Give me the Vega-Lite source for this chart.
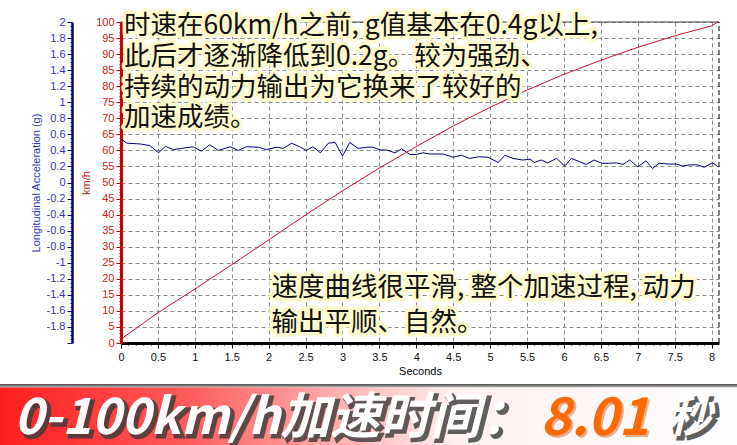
{
  "$schema": "https://vega.github.io/schema/vega-lite/v6.json",
  "background": "white",
  "padding": {"left": 0, "right": 0, "top": 13, "bottom": 0},
  "spacing": 8,
  "config": {
    "font": "Liberation Sans",
    "view": {"stroke": null},
    "axis": {"labelFont": "Liberation Sans", "titleFont": "Liberation Sans", "labelFontSize": 11, "titleFontSize": 11, "titleFontWeight": "normal", "labelOverlap": false, "labelFlush": false}
  },
  "datasets": {
    "speed": [
      {"t": 0, "kmh": 1.2}, {"t": 0.5, "kmh": 9.4}, {"t": 1, "kmh": 16.8}, {"t": 1.5, "kmh": 24.4},
      {"t": 2, "kmh": 32.1}, {"t": 2.5, "kmh": 39.9}, {"t": 3, "kmh": 47.4}, {"t": 3.5, "kmh": 54.5},
      {"t": 4, "kmh": 61.2}, {"t": 4.5, "kmh": 67.6}, {"t": 5, "kmh": 73.4}, {"t": 5.5, "kmh": 78.8},
      {"t": 6, "kmh": 83.7}, {"t": 6.5, "kmh": 88.1}, {"t": 7, "kmh": 92.1}, {"t": 7.5, "kmh": 95.7},
      {"t": 8, "kmh": 98.8}, {"t": 8.08, "kmh": 100}
    ],
    "accel": [
      {"t": 0, "g": 0.54}, {"t": 0.08, "g": 0.49}, {"t": 0.26, "g": 0.48}, {"t": 0.39, "g": 0.46},
      {"t": 0.51, "g": 0.37}, {"t": 0.6, "g": 0.45}, {"t": 0.71, "g": 0.41}, {"t": 0.82, "g": 0.425},
      {"t": 0.98, "g": 0.445}, {"t": 1.09, "g": 0.39}, {"t": 1.2, "g": 0.47}, {"t": 1.32, "g": 0.4},
      {"t": 1.48, "g": 0.445}, {"t": 1.59, "g": 0.4}, {"t": 1.7, "g": 0.445}, {"t": 1.86, "g": 0.44},
      {"t": 1.97, "g": 0.41}, {"t": 2.11, "g": 0.44}, {"t": 2.2, "g": 0.425}, {"t": 2.31, "g": 0.49},
      {"t": 2.42, "g": 0.445}, {"t": 2.51, "g": 0.4}, {"t": 2.6, "g": 0.445}, {"t": 2.7, "g": 0.37},
      {"t": 2.81, "g": 0.49}, {"t": 2.9, "g": 0.5}, {"t": 3, "g": 0.33}, {"t": 3.1, "g": 0.5},
      {"t": 3.21, "g": 0.425}, {"t": 3.33, "g": 0.44}, {"t": 3.41, "g": 0.44}, {"t": 3.51, "g": 0.405},
      {"t": 3.6, "g": 0.405}, {"t": 3.71, "g": 0.37}, {"t": 3.8, "g": 0.42}, {"t": 3.91, "g": 0.35},
      {"t": 4, "g": 0.35}, {"t": 4.09, "g": 0.37}, {"t": 4.18, "g": 0.355}, {"t": 4.36, "g": 0.355},
      {"t": 4.5, "g": 0.315}, {"t": 4.61, "g": 0.34}, {"t": 4.72, "g": 0.3}, {"t": 4.84, "g": 0.32},
      {"t": 4.97, "g": 0.315}, {"t": 5.11, "g": 0.25}, {"t": 5.2, "g": 0.34}, {"t": 5.31, "g": 0.3},
      {"t": 5.44, "g": 0.28}, {"t": 5.54, "g": 0.29}, {"t": 5.6, "g": 0.25}, {"t": 5.69, "g": 0.28},
      {"t": 5.78, "g": 0.245}, {"t": 5.9, "g": 0.3}, {"t": 6.01, "g": 0.205}, {"t": 6.1, "g": 0.3},
      {"t": 6.21, "g": 0.26}, {"t": 6.3, "g": 0.225}, {"t": 6.41, "g": 0.28}, {"t": 6.51, "g": 0.24},
      {"t": 6.62, "g": 0.24}, {"t": 6.71, "g": 0.245}, {"t": 6.8, "g": 0.225}, {"t": 6.89, "g": 0.28},
      {"t": 7, "g": 0.195}, {"t": 7.11, "g": 0.27}, {"t": 7.2, "g": 0.175}, {"t": 7.29, "g": 0.24},
      {"t": 7.41, "g": 0.23}, {"t": 7.52, "g": 0.23}, {"t": 7.61, "g": 0.205}, {"t": 7.7, "g": 0.22},
      {"t": 7.81, "g": 0.22}, {"t": 7.9, "g": 0.19}, {"t": 8.01, "g": 0.245}, {"t": 8.08, "g": 0.205}
    ]
  },
  "vconcat": [
    {
      "width": 737,
      "height": 321,
      "layer": [
        {
          "data": {"name": "accel"},
          "mark": {"type": "line", "color": "#00007a", "strokeWidth": 1},
          "encoding": {
            "x": {
              "field": "t", "type": "quantitative",
              "scale": {"domain": [0, 8.1], "range": [121, 719], "nice": false, "zero": false},
              "axis": {
                "tickCount": 1000,
                "values": [0,0.1,0.2,0.3,0.4,0.5,0.6,0.7,0.8,0.9,1,1.1,1.2,1.3,1.4,1.5,1.6,1.7,1.8,1.9,2,2.1,2.2,2.3,2.4,2.5,2.6,2.7,2.8,2.9,3,3.1,3.2,3.3,3.4,3.5,3.6,3.7,3.8,3.9,4,4.1,4.2,4.3,4.4,4.5,4.6,4.7,4.8,4.9,5,5.1,5.2,5.3,5.4,5.5,5.6,5.7,5.8,5.9,6,6.1,6.2,6.3,6.4,6.5,6.6,6.7,6.8,6.9,7,7.1,7.2,7.3,7.4,7.5,7.6,7.7,7.8,7.9,8],
                "title": "Seconds", "titleColor": "#000", "titlePadding": 3,
                "labelExpr": "abs(datum.value*2 - round(datum.value*2)) < 0.001 ? toString(datum.value) : ''",
                "labelColor": "#111", "labelPadding": 3,
                "tickColor": "#000",
                "tickSize": {"condition": {"test": "abs(datum.value*2 - round(datum.value*2)) < 0.001", "value": 5}, "value": 2},
                "domainColor": "#000", "domainWidth": 3,
                "grid": true, "gridColor": "#8a8a8a", "gridDash": [4, 3], "gridWidth": 1,
                "gridOpacity": {"condition": {"test": "abs(datum.value*2 - round(datum.value*2)) < 0.001 && datum.value > 0", "value": 1}, "value": 0}
              }
            },
            "y": {
              "field": "g", "type": "quantitative",
              "scale": {"domain": [-2, 2], "nice": false, "zero": false},
              "axis": {
                "orient": "left", "offset": -72, "tickCount": 1000,
                "values": [-2,-1.95,-1.9,-1.85,-1.8,-1.75,-1.7,-1.65,-1.6,-1.55,-1.5,-1.45,-1.4,-1.35,-1.3,-1.25,-1.2,-1.15,-1.1,-1.05,-1,-0.95,-0.9,-0.85,-0.8,-0.75,-0.7,-0.65,-0.6,-0.55,-0.5,-0.45,-0.4,-0.35,-0.3,-0.25,-0.2,-0.15,-0.1,-0.05,0,0.05,0.1,0.15,0.2,0.25,0.3,0.35,0.4,0.45,0.5,0.55,0.6,0.65,0.7,0.75,0.8,0.85,0.9,0.95,1,1.05,1.1,1.15,1.2,1.25,1.3,1.35,1.4,1.45,1.5,1.55,1.6,1.65,1.7,1.75,1.8,1.85,1.9,1.95,2],
                "title": "Longitudinal Acceleration (g)", "titleColor": "#3434b0", "titlePadding": 5,
                "labelExpr": "abs(datum.value*5 - round(datum.value*5)) < 0.001 && datum.value > -1.99 ? toString(datum.value) : ''",
                "labelColor": "#3434b0", "labelPadding": 2,
                "tickColor": "#000080",
                "tickSize": {"condition": {"test": "abs(datum.value*5 - round(datum.value*5)) < 0.001", "value": 5}, "value": 2},
                "domainColor": "#000080", "domainWidth": 2.5,
                "grid": false
              }
            }
          }
        },
        {
          "layer": [
            {
              "data": {"name": "speed"},
              "mark": {"type": "line", "color": "#cc1030", "strokeWidth": 1},
              "encoding": {
                "x": {"field": "t", "type": "quantitative"},
                "y": {
                  "field": "kmh", "type": "quantitative",
                  "scale": {"domain": [0, 100], "nice": false, "zero": false},
                  "axis": {
                    "orient": "left", "offset": -121, "tickCount": 1000,
                    "values": [0,1,2,3,4,5,6,7,8,9,10,11,12,13,14,15,16,17,18,19,20,21,22,23,24,25,26,27,28,29,30,31,32,33,34,35,36,37,38,39,40,41,42,43,44,45,46,47,48,49,50,51,52,53,54,55,56,57,58,59,60,61,62,63,64,65,66,67,68,69,70,71,72,73,74,75,76,77,78,79,80,81,82,83,84,85,86,87,88,89,90,91,92,93,94,95,96,97,98,99,100],
                    "title": "km/h", "titleColor": "#cc2020", "titlePadding": 4,
                    "labelExpr": "datum.value % 5 == 0 ? toString(datum.value) : ''",
                    "labelColor": "#cc2020", "labelPadding": 2,
                    "tickColor": "#cc0000",
                    "tickSize": {"condition": {"test": "datum.value % 5 == 0", "value": 5}, "value": 2},
                    "domainColor": "#cc0000", "domainWidth": 3,
                    "grid": true, "gridColor": "#8a8a8a", "gridDash": [4, 3], "gridWidth": 1,
                    "gridOpacity": {"condition": {"test": "datum.value % 5 == 0 && datum.value > 0", "value": 1}, "value": 0}
                  }
                }
              }
            },
            {
              "data": {"values": [{}]},
              "mark": {"type": "rule", "color": "#444", "strokeWidth": 1},
              "encoding": {"x": {"datum": 0, "type": "quantitative"}, "x2": {"datum": 8.1}, "y": {"datum": 100, "type": "quantitative"}}
            },
            {
              "data": {"values": [{}]},
              "mark": {"type": "rule", "color": "#000", "strokeWidth": 1, "strokeDash": [5, 3]},
              "encoding": {"x": {"datum": 8.1, "type": "quantitative"}, "y": {"datum": 0, "type": "quantitative"}, "y2": {"datum": 100}}
            },
            {
              "data": {"values": [{"note": ["时速在60km/h之前, g值基本在0.4g以上,", "此后才逐渐降低到0.2g。较为强劲、", "持续的动力输出为它换来了较好的", "加速成绩。"]}]},
              "mark": {"type": "text", "align": "left", "baseline": "middle", "lineHeight": 30.7, "font": "Noto Sans CJK SC", "fontSize": 26.5, "fill": "#fffbcc", "stroke": "#fffbcc", "strokeWidth": 7, "strokeJoin": "round", "opacity": 0.95},
              "encoding": {"text": {"field": "note"}, "x": {"datum": 0.04, "type": "quantitative"}, "y": {"datum": 98.7, "type": "quantitative"}}
            },
            {
              "data": {"values": [{"note": ["时速在60km/h之前, g值基本在0.4g以上,", "此后才逐渐降低到0.2g。较为强劲、", "持续的动力输出为它换来了较好的", "加速成绩。"]}]},
              "mark": {"type": "text", "align": "left", "baseline": "middle", "lineHeight": 30.7, "font": "Noto Sans CJK SC", "fontSize": 26.5, "fill": "#111"},
              "encoding": {"text": {"field": "note"}, "x": {"datum": 0.04, "type": "quantitative"}, "y": {"datum": 98.7, "type": "quantitative"}}
            },
            {
              "data": {"values": [{"note": ["速度曲线很平滑, 整个加速过程, 动力", "输出平顺、自然。"]}]},
              "mark": {"type": "text", "align": "left", "baseline": "middle", "lineHeight": 34.5, "font": "Noto Sans CJK SC", "fontSize": 26.5, "fill": "#fffbcc", "stroke": "#fffbcc", "strokeWidth": 7, "strokeJoin": "round", "opacity": 0.95},
              "encoding": {"text": {"field": "note"}, "x": {"datum": 2.04, "type": "quantitative"}, "y": {"datum": 17.1, "type": "quantitative"}}
            },
            {
              "data": {"values": [{"note": ["速度曲线很平滑, 整个加速过程, 动力", "输出平顺、自然。"]}]},
              "mark": {"type": "text", "align": "left", "baseline": "middle", "lineHeight": 34.5, "font": "Noto Sans CJK SC", "fontSize": 26.5, "fill": "#111"},
              "encoding": {"text": {"field": "note"}, "x": {"datum": 2.04, "type": "quantitative"}, "y": {"datum": 17.1, "type": "quantitative"}}
            }
          ]
        }
      ],
      "resolve": {"scale": {"y": "independent"}}
    },
    {
      "width": 737,
      "height": 65,
      "data": {"values": [{}]},
      "layer": [
        {
          "mark": {"type": "rect", "fill": {"gradient": "linear", "x1": 0, "y1": 0, "x2": 1, "y2": 0, "stops": [{"offset": 0, "color": "#ff1e1e"}, {"offset": 0.25, "color": "#ff5a5a"}, {"offset": 0.48, "color": "#ffb8b8"}, {"offset": 0.62, "color": "#fff0f0"}, {"offset": 1, "color": "#ffffff"}]}},
          "encoding": {
            "x": {"datum": 0, "type": "quantitative", "scale": {"domain": [0, 100], "nice": false, "zero": false}, "axis": null},
            "x2": {"datum": 100},
            "y": {"datum": 0, "type": "quantitative", "scale": {"domain": [0, 1], "nice": false, "zero": false}, "axis": null},
            "y2": {"datum": 0.95}
          }
        },
        {
          "mark": {"type": "rect", "fill": {"gradient": "linear", "x1": 0, "y1": 0, "x2": 0, "y2": 1, "stops": [{"offset": 0, "color": "#4a4a4a"}, {"offset": 1, "color": "#b0b0b0"}]}},
          "encoding": {"x": {"datum": 0, "type": "quantitative"}, "x2": {"datum": 100}, "y": {"datum": 0.95, "type": "quantitative"}, "y2": {"datum": 1}}
        },
        {
          "mark": {"type": "text", "text": "0-100km/h加速时间：", "align": "left", "baseline": "middle", "font": "Noto Sans CJK SC", "fontSize": 50, "fontWeight": "bold", "fontStyle": "italic", "fill": "#3a3a3a", "stroke": "#3a3a3a", "strokeWidth": 3, "dx": 3, "dy": 3, "opacity": 0.8},
          "encoding": {"x": {"datum": 1.9, "type": "quantitative"}, "y": {"datum": 0.46, "type": "quantitative"}}
        },
        {
          "mark": {"type": "text", "text": "0-100km/h加速时间：", "align": "left", "baseline": "middle", "font": "Noto Sans CJK SC", "fontSize": 50, "fontWeight": "bold", "fontStyle": "italic", "fill": "#ffffff"},
          "encoding": {"x": {"datum": 1.9, "type": "quantitative"}, "y": {"datum": 0.46, "type": "quantitative"}}
        },
        {
          "mark": {"type": "text", "text": "8.01", "align": "left", "baseline": "middle", "font": "Noto Sans CJK SC", "fontSize": 52, "fontWeight": "bold", "fontStyle": "italic", "fill": "#b04a00", "dx": 2, "dy": 2, "opacity": 0.4},
          "encoding": {"x": {"datum": 73.3, "type": "quantitative"}, "y": {"datum": 0.46, "type": "quantitative"}}
        },
        {
          "mark": {"type": "text", "text": "8.01", "align": "left", "baseline": "middle", "font": "Noto Sans CJK SC", "fontSize": 52, "fontWeight": "bold", "fontStyle": "italic", "fill": "#ff6a00"},
          "encoding": {"x": {"datum": 73.3, "type": "quantitative"}, "y": {"datum": 0.46, "type": "quantitative"}}
        },
        {
          "mark": {"type": "text", "text": "秒", "align": "left", "baseline": "middle", "font": "Noto Sans CJK SC", "fontSize": 44, "fontWeight": "bold", "fontStyle": "italic", "fill": "#3a3a3a", "stroke": "#3a3a3a", "strokeWidth": 3, "dx": 3, "dy": 3, "opacity": 0.8},
          "encoding": {"x": {"datum": 90.6, "type": "quantitative"}, "y": {"datum": 0.46, "type": "quantitative"}}
        },
        {
          "mark": {"type": "text", "text": "秒", "align": "left", "baseline": "middle", "font": "Noto Sans CJK SC", "fontSize": 44, "fontWeight": "bold", "fontStyle": "italic", "fill": "#ffffff"},
          "encoding": {"x": {"datum": 90.6, "type": "quantitative"}, "y": {"datum": 0.46, "type": "quantitative"}}
        }
      ]
    }
  ]
}
